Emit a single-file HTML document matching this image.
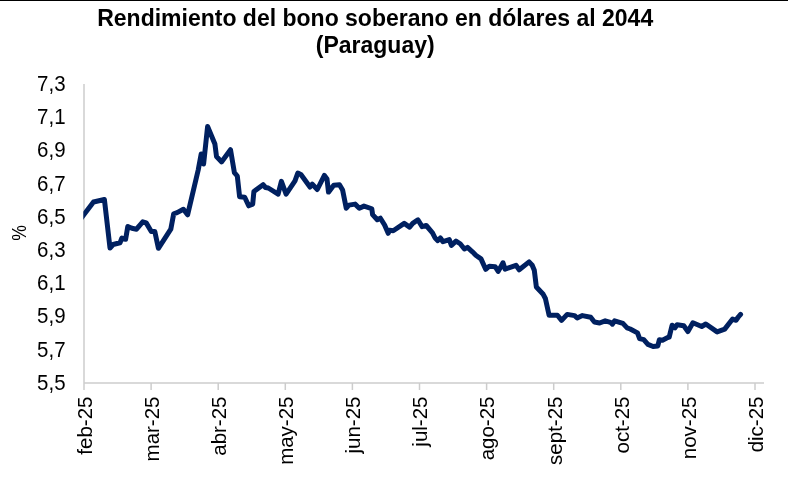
<!DOCTYPE html>
<html><head><meta charset="utf-8"><style>
html,body{margin:0;padding:0;background:#fff;overflow:hidden;}
svg{display:block;will-change:transform;}
text{font-family:"Liberation Sans",sans-serif;font-size:20px;fill:#000;}
</style></head><body>
<svg width="788" height="480" viewBox="0 0 788 480">
<defs><clipPath id="pa"><rect x="83.3" y="0" width="700" height="480"/></clipPath></defs>
<rect x="0" y="0" width="788" height="480" fill="#fff"/>
<rect x="0" y="0" width="788" height="1" fill="#000"/>
<text x="375.2" y="26" text-anchor="middle" style="font-weight:bold;font-size:23px">Rendimiento del bono soberano en dólares al 2044</text>
<text x="375.2" y="52.5" text-anchor="middle" style="font-weight:bold;font-size:23px">(Paraguay)</text>
<g stroke="#cccccc" stroke-width="1.5" fill="none">
<line x1="84" y1="84" x2="84" y2="383" />
<line x1="84" y1="383" x2="764" y2="383" />
<line x1="84.00" y1="383" x2="84.00" y2="390" />
<line x1="151.10" y1="383" x2="151.10" y2="390" />
<line x1="218.20" y1="383" x2="218.20" y2="390" />
<line x1="285.30" y1="383" x2="285.30" y2="390" />
<line x1="352.40" y1="383" x2="352.40" y2="390" />
<line x1="419.50" y1="383" x2="419.50" y2="390" />
<line x1="486.60" y1="383" x2="486.60" y2="390" />
<line x1="553.70" y1="383" x2="553.70" y2="390" />
<line x1="620.80" y1="383" x2="620.80" y2="390" />
<line x1="687.90" y1="383" x2="687.90" y2="390" />
<line x1="755.00" y1="383" x2="755.00" y2="390" />
</g>
<text transform="translate(65.6,90.90) scale(1,1.045)" text-anchor="end" style="font-size:20.5px">7,3</text>
<text transform="translate(65.6,124.12) scale(1,1.045)" text-anchor="end" style="font-size:20.5px">7,1</text>
<text transform="translate(65.6,157.34) scale(1,1.045)" text-anchor="end" style="font-size:20.5px">6,9</text>
<text transform="translate(65.6,190.57) scale(1,1.045)" text-anchor="end" style="font-size:20.5px">6,7</text>
<text transform="translate(65.6,223.79) scale(1,1.045)" text-anchor="end" style="font-size:20.5px">6,5</text>
<text transform="translate(65.6,257.01) scale(1,1.045)" text-anchor="end" style="font-size:20.5px">6,3</text>
<text transform="translate(65.6,290.23) scale(1,1.045)" text-anchor="end" style="font-size:20.5px">6,1</text>
<text transform="translate(65.6,323.46) scale(1,1.045)" text-anchor="end" style="font-size:20.5px">5,9</text>
<text transform="translate(65.6,356.68) scale(1,1.045)" text-anchor="end" style="font-size:20.5px">5,7</text>
<text transform="translate(65.6,389.90) scale(1,1.045)" text-anchor="end" style="font-size:20.5px">5,5</text>

<text transform="translate(26.3,233) rotate(-90) scale(0.88,1)" text-anchor="middle" style="font-size:20px">%</text>
<text transform="translate(91.80,396.5) rotate(-90)" text-anchor="end" style="font-size:20.5px">feb-25</text>
<text transform="translate(158.90,396.5) rotate(-90)" text-anchor="end" style="font-size:20.5px">mar-25</text>
<text transform="translate(226.00,396.5) rotate(-90)" text-anchor="end" style="font-size:20.5px">abr-25</text>
<text transform="translate(293.10,396.5) rotate(-90)" text-anchor="end" style="font-size:20.5px">may-25</text>
<text transform="translate(360.20,396.5) rotate(-90)" text-anchor="end" style="font-size:20.5px">jun-25</text>
<text transform="translate(427.30,396.5) rotate(-90)" text-anchor="end" style="font-size:20.5px">jul-25</text>
<text transform="translate(494.40,396.5) rotate(-90)" text-anchor="end" style="font-size:20.5px">ago-25</text>
<text transform="translate(561.50,396.5) rotate(-90)" text-anchor="end" style="font-size:20.5px">sept-25</text>
<text transform="translate(628.60,396.5) rotate(-90)" text-anchor="end" style="font-size:20.5px">oct-25</text>
<text transform="translate(695.70,396.5) rotate(-90)" text-anchor="end" style="font-size:20.5px">nov-25</text>
<text transform="translate(762.80,396.5) rotate(-90)" text-anchor="end" style="font-size:20.5px">dic-25</text>

<polyline clip-path="url(#pa)" points="79,221 84,214.5 93.5,202 104.4,199.5 110,248 113.1,244.5 120,242.8 121.9,238 125.6,239.3 127.8,226.5 131.9,228.3 136.5,229.2 139.3,225.8 142.75,221.8 146.2,222.9 151.3,231.5 154.8,231.5 158.4,248.3 170.8,229.2 173.7,213.75 177.1,212.6 183.4,209.25 187.6,214.8 198.2,170 201.2,154 203.6,164 207.6,126.5 214.9,144 216.5,156.5 221.5,161.9 230.5,149.7 234.4,172.6 237.3,176 239.6,196.7 244.7,197.2 248.7,205.8 252.7,204.1 253.9,191.5 263.1,184.7 265.5,187.5 268.3,188 278.1,194.1 281.4,181.4 286.1,194.1 295,180.9 297.8,173 301.1,174.8 310,187 312.3,184.2 317.3,189.5 324.4,175.4 327,179 328.5,192.1 333.75,185.3 339.5,184.8 342.6,190 346.25,208.2 348.9,205.1 355.1,204.1 359.3,208.2 364,206.1 371.8,208.75 372.6,214.6 377.3,219.8 380.4,218.2 384.6,225 388.2,233.3 389.6,230.3 393.2,230.8 404.2,223.4 409.6,227.1 412.7,223.4 417.9,219.8 422.1,226.6 426.25,225.5 432.5,232.8 435.1,238 437.8,240.6 440.4,238 443,241.7 449.3,239.6 451.4,245.3 456,241.1 460.2,243.75 464.4,249 467.5,247.4 472.7,252.1 475.8,255.2 481,258.9 485.7,269.3 489.4,266.2 495.1,266.7 498.2,271.35 503,262.8 505.1,269.2 516,265.3 519.2,269.8 529.1,261.9 532.2,265.2 534.3,270.3 536.35,287 543.2,294.3 545.4,298.5 549.1,315.2 557.4,315.2 561.6,320.4 567.2,314.4 574.6,315.6 577.2,318 582.4,315.6 590.7,317.3 594.4,322 599.6,323 605.2,320.8 610.4,322.3 612.4,324.2 614.6,320.8 622.9,323.4 627.1,327.9 630.2,329 637.5,332.9 639.6,338.6 643.75,339.7 647.9,344.4 653.1,346.5 657.8,345.9 659.4,339.7 662.5,340.2 667.7,337.6 669.2,337.2 672.1,325.25 675,327.75 677.1,324.8 683.75,325.7 687.9,331.5 692.9,322.75 701.7,326.5 705.8,324 717.1,331.9 724.7,329.1 732.6,319 736,320.3 738.3,317 740.6,314.3" fill="none" stroke="#002060" stroke-width="5" stroke-linejoin="round" stroke-linecap="round"/>
</svg>
</body></html>
